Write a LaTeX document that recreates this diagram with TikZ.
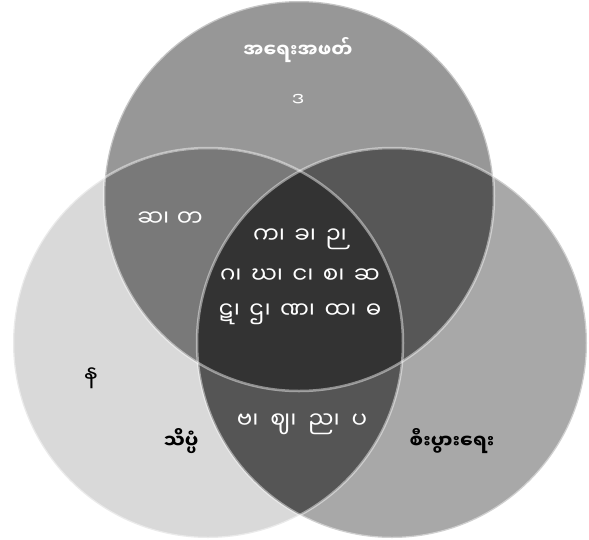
\documentclass[tikz,border=0pt]{standalone}
\usepackage{fontspec}
\usepackage{tikz}
\newfontfamily\mmfont[Script=Myanmar]{Noto Sans Myanmar UI}
\newfontfamily\mmwide[Script=Myanmar,WordSpace=1.75]{Noto Sans Myanmar UI}
\newfontfamily\mmmid[Script=Myanmar,WordSpace=1.25]{Noto Sans Myanmar UI}
\definecolor{onlyT}{HTML}{979797}
\definecolor{onlyL}{HTML}{D9D9D9}
\definecolor{onlyR}{HTML}{A8A8A8}
\definecolor{tl}{HTML}{797979}
\definecolor{tr}{HTML}{575757}
\definecolor{lr}{HTML}{555555}
\definecolor{tlr}{HTML}{333333}

\begin{document}
\begin{tikzpicture}[x=1pt,y=-1pt]\tikzstyle{every node}+=[inner sep=0pt]
  \tikzstyle{letters}=[font=\mmfont\fontsize{23}{26}\selectfont,text=white]
  \tikzstyle{wideletters}=[letters,font=\mmwide\fontsize{23}{26}\selectfont]
  \tikzstyle{heading}=[font=\mmfont\bfseries\fontsize{19}{22}\selectfont]
  \tikzstyle{rim}=[draw=white,draw opacity=0.45,line width=2.5pt]
  \useasboundingbox (0,0) rectangle (589,539);
  % circle centres
  \coordinate (T) at (299,196);
  \coordinate (L) at (208,343);
  \coordinate (R) at (392,343);
  \def\rr{195pt}
  % plain discs
  \fill [onlyT] (T) circle [radius=\rr];
  \fill [onlyL] (L) circle [radius=\rr];
  \fill [onlyR] (R) circle [radius=\rr];
  % overlaps
  \begin{scope}\clip (T) circle [radius=\rr];
    \fill [tl] (L) circle [radius=\rr];
    \fill [tr] (R) circle [radius=\rr];
  \end{scope}
  \begin{scope}\clip (L) circle [radius=\rr];
    \fill [lr] (R) circle [radius=\rr];
    \clip (R) circle [radius=\rr];
    \fill [tlr] (T) circle [radius=\rr];
  \end{scope}
  % rims
  \draw [rim] (T) circle [radius=\rr];
  \draw [rim] (L) circle [radius=\rr];
  \draw [rim] (R) circle [radius=\rr];
  % labels
  \node [heading,text=white] (writing) at (298,50) {အရေးအဖတ်};
  \node [heading] (science) at (181,441) {သိပ္ပံ};
  \node [heading] (economy) at (452,441) {စီးပွားရေး};
  \node [letters,font=\mmfont\fontsize{19}{22}\selectfont] (onlywriting) at (298,100) {ဒ};
  \node [letters] (writsci) at (170,219) {ဆ၊ တ};
  \node [wideletters] (allone) at (300,239) {က၊ ခ၊ ဉ၊};
  \node [wideletters] (alltwo) at (300,276) {ဂ၊ ဃ၊ င၊ စ၊ ဆ};
  \node [wideletters] (allthree) at (300,314) {ဋ၊ ဌ၊ ဏ၊ ထ၊ ဓ};
  \node [letters,text=black] (onlysci) at (91,378) {န};
  \node [letters,font=\mmmid\fontsize{23}{26}\selectfont] (scieco) at (302,424) {ဗ၊ ဈ၊ ည၊ ပ};
\end{tikzpicture}
\end{document}
